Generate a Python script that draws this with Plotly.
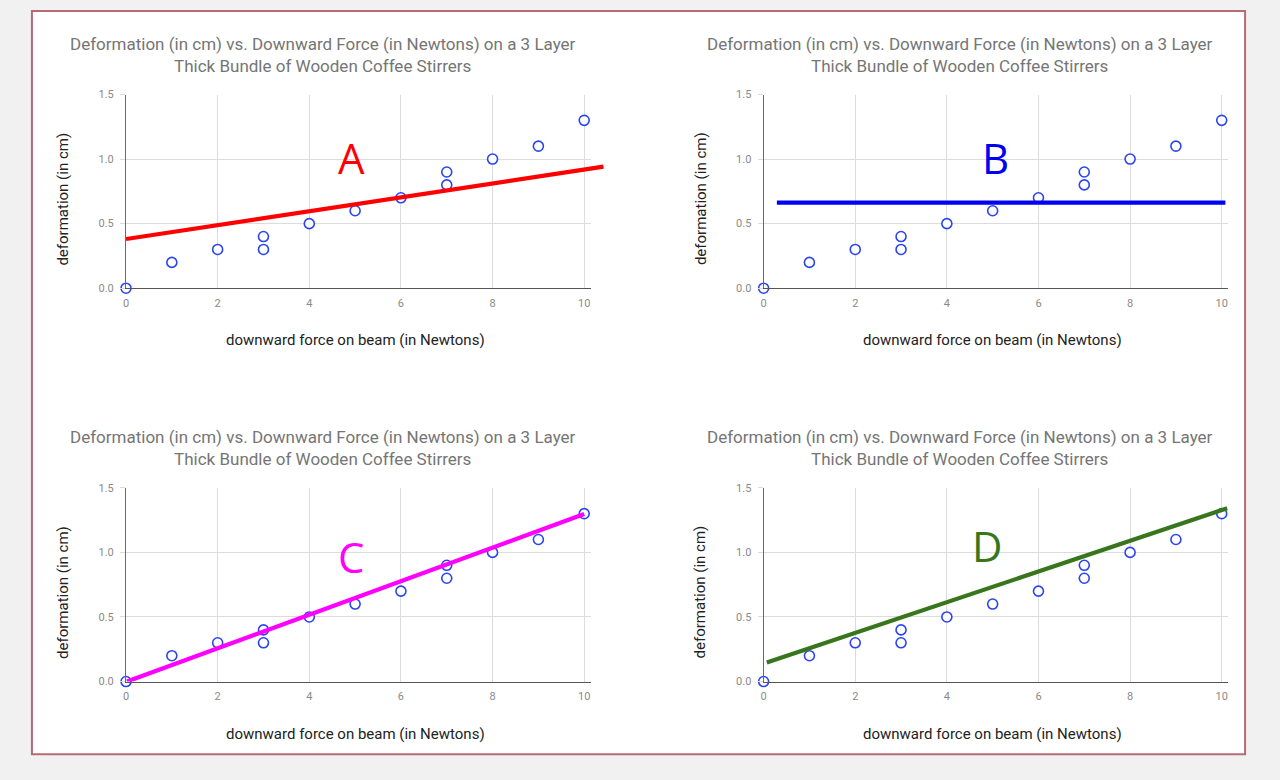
import plotly.graph_objects as go

# ---------------- data ----------------
force = [0, 1, 2, 3, 3, 4, 5, 6, 7, 7, 8, 9, 10]
deformation = [0.0, 0.2, 0.3, 0.3, 0.4, 0.5, 0.6, 0.7, 0.8, 0.9, 1.0, 1.1, 1.3]

fit_labels = ["A", "B", "C", "D"]
fit_x = [[0.0, 10.42], [0.29, 10.08], [0.02, 10.0], [0.07, 10.12]]
fit_y = [[0.381, 0.941], [0.662, 0.662], [0.0, 1.297], [0.147, 1.342]]
label_x = [4.92, 5.07, 4.92, 4.88]
label_y = [1.01, 1.01, 0.966, 1.05]
fit_colors = ["#ff0000", "#0000f0", "#ff00ff", "#38761d"]

x_ticks = [0, 2, 4, 6, 8, 10]
y_ticks = [0.0, 0.5, 1.0, 1.5]

chart_title = ("Deformation (in cm) vs. Downward Force (in Newtons) on a 3 Layer"
               "<br>Thick Bundle of Wooden Coffee Stirrers")
x_title = "downward force on beam (in Newtons)"
y_title = "deformation (in cm)"

# ---------------- geometry (pixels) ----------------
W, H = 1280, 780
X0 = [123.3, 762.4]      # pixel of x = 0 per column
XR = [589.0, 1228.0]     # right edge of plot area per column
Y0 = [287.0, 687.0]      # pixel of y = 0 per row
YT = [90.0, 490.0]       # pixel of y = 1.5 per row
XMAX = 10.14
XMAX_LINE = 10.7

def px(v):
    return v / W

def py(v):
    return 1 - v / H

fig = go.Figure()
layout = dict(
    width=W, height=H,
    margin=dict(l=0, r=0, t=0, b=0),
    paper_bgcolor="#f1f1f1",
    plot_bgcolor="rgba(0,0,0,0)",
    showlegend=False,
    font=dict(family="Roboto", color="#222222"),
    shapes=[dict(type="rect", xref="paper", yref="paper",
                 x0=px(29), x1=px(1245), y0=py(761), y1=py(5),
                 fillcolor="#ffffff", line=dict(color="#b86a74", width=2),
                 layer="below")],
    annotations=[],
)

marker_blue = "#2b44f2"

for i in range(4):
    col, row = i % 2, i // 2
    k = i + 1
    kl = i + 5
    xd = [px(X0[col]), px(XR[col])]
    yd = [py(Y0[row]), py(YT[row])]
    ppu = (XR[col] - X0[col]) / XMAX
    xd_line = [px(X0[col]), px(X0[col] + XMAX_LINE * ppu)]

    layout[f"xaxis{k}"] = dict(
        domain=xd, range=[0, XMAX], anchor=f"y{k}",
        tickvals=x_ticks, showgrid=True, gridcolor="#dcdcdc", gridwidth=1,
        zeroline=False, showline=True, linecolor="#555555", linewidth=1.3,
        ticks="", tickfont=dict(family="Roboto", size=11, color="#8a8a8a"),
        ticklabelstandoff=4, fixedrange=True,
    )
    layout[f"yaxis{k}"] = dict(
        domain=yd, range=[0, 1.5], anchor=f"x{k}",
        tickvals=y_ticks, tickformat=".1f", showgrid=True, gridcolor="#dcdcdc",
        gridwidth=1, zeroline=False, showline=True, linecolor="#6a6a6a",
        linewidth=1.1, ticks="outside", ticklen=5, tickcolor="#dcdcdc",
        tickfont=dict(family="Roboto", size=11, color="#8a8a8a"),
        ticklabelstandoff=4, fixedrange=True,
    )
    layout[f"xaxis{kl}"] = dict(domain=xd_line, range=[0, XMAX_LINE],
                                anchor=f"y{kl}", visible=False, fixedrange=True)
    layout[f"yaxis{kl}"] = dict(domain=yd, range=[0, 1.5], anchor=f"x{kl}",
                                visible=False, fixedrange=True)

    fig.add_trace(go.Scatter(
        x=force, y=deformation, mode="markers", xaxis=f"x{k}", yaxis=f"y{k}",
        marker=dict(symbol="circle", size=10, color="#ffffff",
                    line=dict(color=marker_blue, width=1.6)),
        cliponaxis=False, hoverinfo="x+y",
    ))
    fig.add_trace(go.Scatter(
        x=fit_x[i], y=fit_y[i], mode="lines", xaxis=f"x{kl}", yaxis=f"y{kl}",
        line=dict(color=fit_colors[i], width=4.2), hoverinfo="skip",
    ))

    layout["annotations"].append(dict(
        x=label_x[i], y=label_y[i], xref=f"x{k}", yref=f"y{k}",
        text=fit_labels[i], showarrow=False,
        font=dict(family="Open Sans", size=42, color=fit_colors[i]),
        xanchor="center", yanchor="middle",
    ))
    cx = 320.5 + 638.5 * col
    layout["annotations"].append(dict(
        x=px(cx), y=py(50 + 400 * row), xref="paper", yref="paper",
        text=chart_title, showarrow=False, align="center",
        font=dict(family="Roboto", size=17, color="#757575"),
        xanchor="center", yanchor="middle",
    ))
    layout["annotations"].append(dict(
        x=px(353 + 639 * col), y=py(340 + 400 * row), xref="paper", yref="paper",
        text=x_title, showarrow=False,
        font=dict(family="Roboto", size=15, color="#222222"),
        xanchor="center", yanchor="middle",
    ))
    layout["annotations"].append(dict(
        x=px(60 + 639 * col), y=py(196 + 400 * row), xref="paper", yref="paper",
        text=y_title, showarrow=False, textangle=-90,
        font=dict(family="Roboto", size=15, color="#222222"),
        xanchor="center", yanchor="middle",
    ))

fig.update_layout(**layout)
fig.write_html(
    "out.html",
    config={"displayModeBar": False},
    post_script="document.body.style.margin='0';document.body.style.overflow='hidden';",
)
